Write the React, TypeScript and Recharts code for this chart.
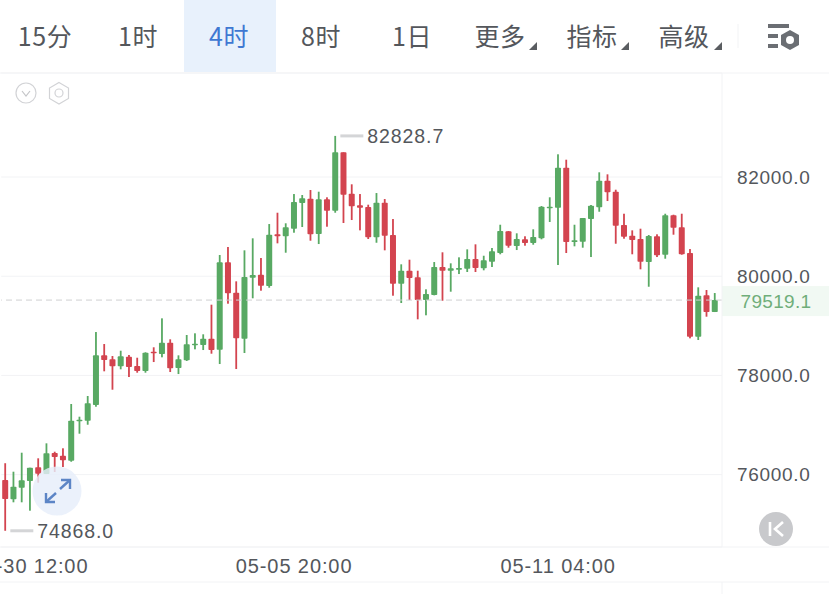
import { Bar, CartesianGrid, ComposedChart, ReferenceDot, ReferenceLine, XAxis, YAxis } from 'recharts';

const days = ['04-30', '05-01', '05-02', '05-03', '05-04', '05-05', '05-06', '05-07', '05-08', '05-09', '05-10', '05-11', '05-12', '05-13', '05-14'];
const hours = ['00:00', '04:00', '08:00', '12:00', '16:00', '20:00'];
const xTicks = ['04-30 12:00', '05-05 20:00', '05-11 04:00'];
const yTicks = [76000, 78000, 80000, 82000];
const lastPrice = 79519.1;
const maxPrice = 82828.7;
const minPrice = 74868.0;

const opens = [75890, 75502, 75736, 75871, 76148, 76012, 76436, 76381, 76281, 77075, 77087, 77404, 78405, 78325, 78184, 78377, 78190, 78089, 78478, 78432, 78659, 78149, 78305, 78613, 78613, 78740, 78518, 80280, 79667, 78740, 79970, 80030, 79803, 80845, 80805, 80958, 81476, 81563, 80851, 81550, 81321, 82498, 81663, 81429, 81395, 80784, 81482, 80831, 79849, 80111, 79978, 79520, 79621, 80186, 80111, 80131, 80151, 80347, 80159, 80292, 80468, 80905, 80609, 80744, 80669, 80764, 81369, 81381, 82187, 80690, 80696, 81153, 81389, 81925, 81704, 81032, 80817, 80750, 80286, 80805, 80434, 81228, 80986, 80468, 78780, 79615, 79278];
const closes = [75510, 75756, 75885, 76139, 76019, 76430, 76355, 76289, 77087, 77107, 77438, 78405, 78311, 78184, 78385, 78170, 78089, 78458, 78446, 78659, 78143, 78325, 78627, 78639, 78740, 78512, 80280, 79655, 78748, 79984, 80024, 79809, 80837, 80805, 80986, 81496, 81571, 80845, 81550, 81321, 82498, 81643, 81409, 81381, 80784, 81482, 80817, 79849, 80111, 79964, 79520, 79641, 80186, 80111, 80159, 80165, 80347, 80165, 80321, 80502, 80911, 80615, 80750, 80669, 80790, 81401, 81401, 82187, 80690, 80724, 81173, 81421, 81925, 81692, 81018, 80796, 80730, 80292, 80811, 80421, 81228, 80978, 80442, 78780, 79607, 79278, 79519.1];
const highs = [76230, 76059, 76442, 76139, 76329, 76631, 76462, 76531, 77424, 77168, 77585, 78875, 78633, 78391, 78498, 78412, 78357, 78466, 78567, 79151, 78728, 78405, 78815, 78849, 78829, 79426, 80428, 80589, 79897, 80522, 80764, 80367, 81052, 81280, 81067, 81657, 81637, 81738, 81704, 81591, 82828.7, 82498, 81853, 81657, 81442, 81677, 81556, 81153, 80240, 80333, 80111, 79736, 80286, 80482, 80260, 80381, 80542, 80643, 80413, 80569, 81038, 80911, 80865, 80805, 80946, 81415, 81591, 82458, 82349, 81038, 81173, 81436, 82095, 82054, 81744, 81260, 80925, 80958, 80831, 80845, 81260, 81240, 81260, 80548, 79776, 79722, 79661];
const lows = [74868, 75442, 75442, 75273, 75837, 76012, 76053, 76154, 76260, 76825, 77006, 77369, 78083, 77712, 78123, 77968, 78055, 78055, 78270, 78365, 78069, 78028, 78291, 78526, 78512, 78438, 78230, 79446, 78129, 78452, 79555, 79708, 79768, 80663, 80474, 80877, 80992, 80716, 80649, 80998, 81280, 81073, 81133, 80925, 80750, 80675, 80522, 79607, 79460, 79520, 79131, 79212, 79615, 79506, 79688, 80044, 80085, 80085, 80119, 80186, 80442, 80575, 80528, 80615, 80635, 80744, 81093, 80226, 80468, 80603, 80575, 80387, 81300, 81516, 80655, 80756, 80442, 80139, 79788, 80387, 80353, 80837, 80434, 78748, 78714, 79184, 79278];

const tabs = [
  { label: '15分', x: 45 },
  { label: '1时', x: 138 },
  { label: '4时', x: 229, active: true },
  { label: '8时', x: 321 },
  { label: '1日', x: 412 },
  { label: '更多', x: 500 },
  { label: '指标', x: 592 },
  { label: '高级', x: 684 },
];
const menuCorners = [537, 629, 722];

const times = days.flatMap((d) => hours.map((h) => `${d} ${h}`));
const data = opens.map((open, i) => ({
  time: times[i],
  open,
  close: closes[i],
  high: highs[i],
  low: lows[i],
}));

const GREEN = '#58a963';
const RED = '#d3444f';
const TEXT = '#54575c';
const LINE = '#f2f3f5';
const FONT = '"Liberation Sans", Arial, sans-serif';
const CJK = '"Noto Sans CJK SC", sans-serif';

function Candle(props: any) {
  const { x, y, width, height, payload } = props;
  const { open, close, high, low } = payload;
  const perUnit = height / (high - low);
  const top = y + (high - Math.max(open, close)) * perUnit;
  const bodyH = Math.max(Math.abs(open - close) * perUnit, 1.5);
  const color = close >= open ? GREEN : RED;
  return (
    <g>
      <rect x={x + width / 2 - 0.9} y={y} width={1.8} height={height} fill={color} />
      <rect x={x} y={top} width={width} height={bodyH} rx={0.8} fill={color} />
    </g>
  );
}

function PriceTag(props: any) {
  const { viewBox } = props;
  const y = viewBox.y;
  return (
    <g>
      <rect x={722} y={y - 14} width={107} height={30} fill="#f1f9f3" />
      <text x={776} y={y + 8} textAnchor="middle" fontFamily={FONT} fontSize={19} letterSpacing={0.3} fill="#6fae7a">
        {lastPrice.toFixed(1)}
      </text>
    </g>
  );
}

function ExtremeMark(props: any) {
  const { cx, cy, value } = props;
  return (
    <g>
      <line x1={cx + 5} x2={cx + 28} y1={cy} y2={cy} stroke="#d4d5d7" strokeWidth={3} />
      <text x={cx + 32} y={cy + 7} fontFamily={FONT} fontSize={19.5} letterSpacing={0.9} fill={TEXT}>
        {value}
      </text>
    </g>
  );
}

function Overlay() {
  return (
    <svg width={829} height={594} style={{ position: 'absolute', left: 0, top: 0, pointerEvents: 'none' }}>
      <rect x={184} y={0} width={92} height={72} fill="#e8f1fc" />
      {tabs.map((t) => (
        <text key={t.label} x={t.x} y={46} textAnchor="middle" fontFamily={CJK} fontSize={25} letterSpacing={0.6} fill={t.active ? '#3f78d2' : TEXT}>
          {t.label}
        </text>
      ))}
      {menuCorners.map((x) => (
        <polygon key={x} points={`${x},42 ${x},50 ${x - 8},50`} fill="#5a5d61" />
      ))}
      <line x1={738} x2={738} y1={24} y2={48} stroke={LINE} strokeWidth={1} />
      <g fill="#6b6e73">
        <rect x={768} y={24} width={21} height={4} />
        <rect x={768} y={34} width={10} height={4} />
        <rect x={768} y={44} width={10} height={4} />
      </g>
      <polygon points="790,30 799,35 799,45 790,50 781,45 781,35" fill="#6b6e73" />
      <circle cx={790} cy={40} r={4} fill="#fff" />

      <line x1={0} x2={829} y1={73} y2={73} stroke={LINE} />
      <line x1={0} x2={829} y1={547} y2={547} stroke={LINE} />
      <line x1={0} x2={829} y1={582} y2={582} stroke={LINE} />
      <line x1={722} x2={722} y1={73} y2={547} stroke={LINE} />
      <line x1={722} x2={722} y1={582} y2={594} stroke={LINE} />

      <circle cx={26} cy={93} r={10} fill="none" stroke="#d2d3d6" strokeWidth={1.2} />
      <polyline points="22,91 26,96 30,91" fill="none" stroke="#c4c5c8" strokeWidth={1.2} />
      <polygon points="59,82.5 68.5,88 68.5,98.5 59,104 49.5,98.5 49.5,88" fill="none" stroke="#d2d3d6" strokeWidth={1.2} />
      <circle cx={59} cy={93} r={4} fill="none" stroke="#d2d3d6" strokeWidth={1.2} />

      <circle cx={57} cy={491} r={24.5} fill="#e6eefa" fillOpacity={0.82} />
      <g fill="none" stroke="#5c85c6" strokeWidth={2.4}>
        <polyline points="61,480 70,480 70,489" />
        <line x1={70} y1={480} x2={60} y2={489} />
        <polyline points="46,493 46,502 55,502" />
        <line x1={46} y1={502} x2={56} y2={493} />
      </g>

      <circle cx={776} cy={529} r={17} fill="#c8c9cc" />
      <g fill="none" stroke="#fff" strokeWidth={2.6}>
        <line x1={770} y1={522} x2={770} y2={536} />
        <polyline points="783,522 775,529 783,536" />
      </g>
    </svg>
  );
}

export default function App() {
  return (
    <div style={{ position: 'absolute', left: 0, top: 0, width: 829, height: 594, background: '#fff', overflow: 'hidden' }}>
      <ComposedChart width={829} height={594} data={data} margin={{ top: 73, right: 0, bottom: 0, left: 1.2 }}>
        <CartesianGrid horizontal vertical={false} stroke={LINE} />
        <XAxis
          dataKey="time"
          ticks={xTicks}
          interval={0}
          height={47}
          padding={{ left: 0, right: 3 }}
          axisLine={false}
          tickLine={false}
          tickMargin={6}
          tick={{ fontFamily: FONT, fontSize: 20, letterSpacing: 0.9, fill: TEXT }}
        />
        <YAxis
          orientation="right"
          width={107}
          domain={[74541, 84097]}
          ticks={yTicks}
          allowDataOverflow
          axisLine={false}
          tickLine={false}
          tickMargin={9}
          tickFormatter={(v: number) => v.toFixed(1)}
          tick={{ fontFamily: FONT, fontSize: 19, letterSpacing: 0.7, fill: TEXT }}
        />
        <ReferenceLine y={lastPrice} stroke="#cfd0d2" strokeDasharray="6 4" label={<PriceTag />} />
        <Bar dataKey={(d: any) => [d.low, d.high]} barSize={6} shape={<Candle />} isAnimationActive={false} />
        <ReferenceDot
          x={times[highs.indexOf(maxPrice)]}
          y={maxPrice}
          shape={(p: any) => <ExtremeMark {...p} value={maxPrice.toFixed(1)} />}
        />
        <ReferenceDot
          x={times[lows.indexOf(minPrice)]}
          y={minPrice}
          shape={(p: any) => <ExtremeMark {...p} value={minPrice.toFixed(1)} />}
        />
      </ComposedChart>
      <Overlay />
    </div>
  );
}
